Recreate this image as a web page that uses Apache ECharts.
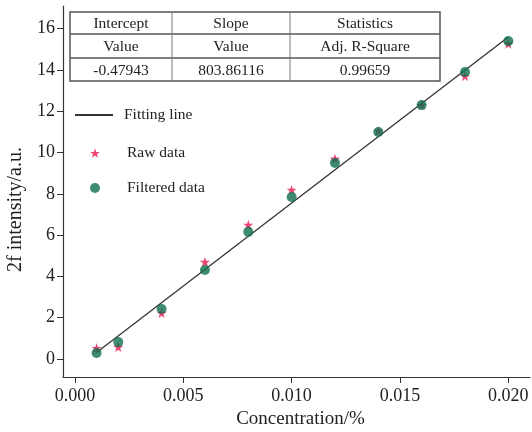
<!DOCTYPE html>
<html>
<head>
<meta charset="utf-8">
<script src="https://cdn.jsdelivr.net/npm/echarts@6/dist/echarts.min.js"></script>
<style>
  html, body { margin: 0; padding: 0; background: #fff; }
  #main { width: 532px; height: 432px; }
</style>
</head>
<body>
<div id="main"></div>
<script>
// concentration (%)
const concentration = [0.001, 0.002, 0.004, 0.006, 0.008, 0.010, 0.012, 0.014, 0.016, 0.018, 0.020];
// 2f intensity
const rawData      = [0.53, 0.58, 2.23, 4.70, 6.50, 8.19, 9.70, 11.05, 12.30, 13.70, 15.27];
const filteredData = [0.29, 0.82, 2.42, 4.31, 6.16, 7.85, 9.50, 11.00, 12.30, 13.90, 15.40];
// fitting line end points
const fitX = [0.001, 0.020];
const fitY = [0.32, 15.60];

const xTicks = [0, 0.005, 0.010, 0.015, 0.020];
const yTicks = [0, 2, 4, 6, 8, 10, 12, 14, 16];

// fit result table
const tableHead = ['Intercept', 'Slope', 'Statistics'];
const tableSub  = ['Value', 'Value', 'Adj. R-Square'];
const tableVal  = ['-0.47943', '803.86116', '0.99659'];

const font = '"Liberation Serif", "Times New Roman", serif';
const textColor = '#222';
const axisColor = '#333';
const starPath = 'path://M50,0 L61.8,35.4 L100,35.4 L69.1,57.3 L80.9,93.1 L50,71.2 L19.1,93.1 L30.9,57.3 L0,35.4 L38.2,35.4 Z';

const pairs = (xs, ys) => xs.map((x, i) => [x, ys[i]]);

// table graphic
const colX = [70, 172, 290, 440];
const rowY = [12, 34, 58, 81];
const tableRows = [tableHead, tableSub, tableVal];
const tableGraphic = [];
tableGraphic.push({
    type: 'rect', shape: { x: colX[0], y: rowY[0], width: colX[3] - colX[0], height: rowY[3] - rowY[0] },
    style: { fill: '#fff', stroke: '#555', lineWidth: 1.5 }
});
for (let r = 1; r < 3; r++) {
    tableGraphic.push({
        type: 'line', shape: { x1: colX[0], y1: rowY[r], x2: colX[3], y2: rowY[r] },
        style: { stroke: '#555', lineWidth: 1.5 }
    });
}
for (let c = 1; c < 3; c++) {
    tableGraphic.push({
        type: 'line', shape: { x1: colX[c], y1: rowY[0], x2: colX[c], y2: rowY[3] },
        style: { stroke: '#777', lineWidth: 1 }
    });
}
tableRows.forEach((row, r) => {
    row.forEach((txt, c) => {
        tableGraphic.push({
            type: 'text',
            x: (colX[c] + colX[c + 1]) / 2,
            y: (rowY[r] + rowY[r + 1]) / 2 + 1,
            style: {
                text: txt, fill: textColor, font: '15.5px ' + font,
                textAlign: 'center', textVerticalAlign: 'middle'
            }
        });
    });
});

const legendText = { fontFamily: font, fontSize: 15.5, color: textColor };

const chart = echarts.init(document.getElementById('main'));
chart.setOption({
    backgroundColor: '#fff',
    animation: false,
    grid: { left: 63, right: 2, top: 6, bottom: 55, containLabel: false, outerBoundsMode: 'none' },
    textStyle: { fontFamily: font },
    legend: [
        {
            orient: 'vertical',
            left: 70,
            top: 102,
            itemWidth: 38,
            itemHeight: 2,
            icon: 'rect',
            data: ['Fitting line'],
            textStyle: Object.assign({ padding: [0, 0, 0, 6] }, legendText)
        },
        {
            orient: 'vertical',
            left: 85,
            top: 140,
            itemWidth: 10,
            itemHeight: 10,
            itemGap: 19,
            data: [
                { name: 'Raw data', icon: starPath },
                { name: 'Filtered data', icon: 'circle' }
            ],
            textStyle: Object.assign({ padding: [0, 0, 0, 22] }, legendText)
        }
    ],
    xAxis: {
        type: 'value',
        min: -0.00055,
        max: 0.021,
        name: 'Concentration/%',
        nameLocation: 'middle',
        nameGap: 30,
        nameTextStyle: { fontFamily: font, fontSize: 19, color: textColor, padding: [0, 0, 0, 8] },
        splitLine: { show: false },
        axisLine: { show: true, onZero: false, lineStyle: { color: axisColor, width: 1.2 } },
        axisTick: { show: true, inside: false, length: 6, customValues: xTicks, lineStyle: { color: axisColor } },
        axisLabel: {
            customValues: xTicks, fontFamily: font, fontSize: 18, color: textColor, margin: 10,
            formatter: v => v.toFixed(3)
        }
    },
    yAxis: {
        type: 'value',
        min: -0.87,
        max: 17.1,
        name: '2f intensity/a.u.',
        nameLocation: 'middle',
        nameGap: 31,
        nameTextStyle: { fontFamily: font, fontSize: 20, color: textColor, padding: [0, 36, 0, 0] },
        splitLine: { show: false },
        axisLine: { show: true, onZero: false, lineStyle: { color: axisColor, width: 1.2 } },
        axisTick: { show: true, inside: false, length: 6, customValues: yTicks, lineStyle: { color: axisColor } },
        axisLabel: { customValues: yTicks, fontFamily: font, fontSize: 18, color: textColor, margin: 8 }
    },
    series: [
        {
            name: 'Fitting line',
            type: 'line',
            data: pairs(fitX, fitY),
            symbol: 'none',
            lineStyle: { color: '#333', width: 1.3 },
            itemStyle: { color: '#333' },
            z: 1
        },
        {
            name: 'Raw data',
            type: 'scatter',
            data: pairs(concentration, rawData),
            symbol: starPath,
            symbolSize: 10,
            itemStyle: { color: '#e8174f' },
            z: 2
        },
        {
            name: 'Filtered data',
            type: 'scatter',
            data: pairs(concentration, filteredData),
            symbol: 'circle',
            symbolSize: 10,
            itemStyle: { color: '#0f6f4e' },
            z: 3
        }
    ],
    graphic: tableGraphic
});
</script>
</body>
</html>
